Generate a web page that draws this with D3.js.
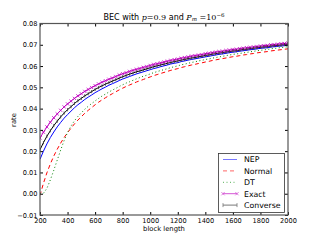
<!DOCTYPE html>
<html>
<head>
<meta charset="utf-8">
<script src="https://cdn.jsdelivr.net/npm/d3@7"></script>
<style>
  body { margin: 0; background: #fff; }
  text { font-family: "DejaVu Sans", sans-serif; }
</style>
</head>
<body>
<div id="container"></div>
<script>
// block lengths (x)
const blockLength = [200, 225, 250, 275, 300, 325, 350, 375, 400, 425, 450, 475, 500, 525, 550, 575, 600, 625, 650, 675,
  700, 725, 750, 775, 800, 825, 850, 875, 900, 925, 950, 975, 1000, 1025, 1050, 1075, 1100, 1125, 1150, 1175,
  1200, 1225, 1250, 1275, 1300, 1325, 1350, 1375, 1400, 1425, 1450, 1475, 1500, 1525, 1550, 1575, 1600, 1625, 1650, 1675,
  1700, 1725, 1750, 1775, 1800, 1825, 1850, 1875, 1900, 1925, 1950, 1975, 2000];

// rate values
const nep = [0.0162, 0.0200, 0.0234, 0.0264, 0.0290, 0.0314, 0.0335, 0.0355, 0.0372, 0.0388, 0.0404, 0.0418, 0.0430, 0.0443, 0.0454, 0.0464, 0.0475, 0.0484, 0.0493, 0.0501,
  0.0510, 0.0517, 0.0524, 0.0532, 0.0539, 0.0545, 0.0551, 0.0557, 0.0563, 0.0568, 0.0573, 0.0578, 0.0583, 0.0588, 0.0592, 0.0597, 0.0601, 0.0605, 0.0610, 0.0613,
  0.0616, 0.0621, 0.0624, 0.0628, 0.0631, 0.0634, 0.0637, 0.0640, 0.0643, 0.0646, 0.0649, 0.0652, 0.0655, 0.0657, 0.0660, 0.0663, 0.0665, 0.0667, 0.0670, 0.0672,
  0.0674, 0.0677, 0.0678, 0.0681, 0.0683, 0.0685, 0.0686, 0.0689, 0.0691, 0.0693, 0.0694, 0.0696, 0.0698];
const normal = [-0.0008, 0.0049, 0.0098, 0.0140, 0.0177, 0.0209, 0.0238, 0.0264, 0.0287, 0.0308, 0.0328, 0.0346, 0.0362, 0.0378, 0.0392, 0.0405, 0.0418, 0.0430, 0.0441, 0.0451,
  0.0461, 0.0470, 0.0479, 0.0488, 0.0496, 0.0504, 0.0511, 0.0518, 0.0525, 0.0531, 0.0537, 0.0543, 0.0549, 0.0555, 0.0560, 0.0565, 0.0570, 0.0575, 0.0580, 0.0584,
  0.0588, 0.0593, 0.0597, 0.0601, 0.0605, 0.0608, 0.0612, 0.0615, 0.0619, 0.0622, 0.0626, 0.0629, 0.0632, 0.0635, 0.0638, 0.0641, 0.0644, 0.0646, 0.0649, 0.0652,
  0.0654, 0.0657, 0.0659, 0.0662, 0.0664, 0.0666, 0.0668, 0.0671, 0.0673, 0.0675, 0.0677, 0.0679, 0.0681];
const dt = [0.0000, 0.0002, 0.0025, 0.0065, 0.0110, 0.0158, 0.0205, 0.0250, 0.0288, 0.0318, 0.0343, 0.0363, 0.0380, 0.0397, 0.0411, 0.0424, 0.0436, 0.0448, 0.0459, 0.0468,
  0.0478, 0.0487, 0.0495, 0.0504, 0.0512, 0.0520, 0.0526, 0.0533, 0.0540, 0.0546, 0.0552, 0.0557, 0.0563, 0.0569, 0.0574, 0.0579, 0.0583, 0.0588, 0.0593, 0.0597,
  0.0601, 0.0606, 0.0609, 0.0613, 0.0617, 0.0620, 0.0624, 0.0627, 0.0631, 0.0633, 0.0637, 0.0640, 0.0643, 0.0646, 0.0649, 0.0652, 0.0655, 0.0657, 0.0659, 0.0662,
  0.0664, 0.0667, 0.0669, 0.0672, 0.0674, 0.0676, 0.0678, 0.0681, 0.0683, 0.0685, 0.0687, 0.0689, 0.0691];
const exact = [0.0262, 0.0289, 0.0314, 0.0336, 0.0357, 0.0375, 0.0392, 0.0408, 0.0422, 0.0435, 0.0448, 0.0460, 0.0470, 0.0481, 0.0490, 0.0499, 0.0508, 0.0516, 0.0524, 0.0531,
  0.0538, 0.0544, 0.0551, 0.0558, 0.0564, 0.0569, 0.0575, 0.0580, 0.0585, 0.0589, 0.0594, 0.0598, 0.0603, 0.0608, 0.0611, 0.0615, 0.0619, 0.0623, 0.0627, 0.0630,
  0.0633, 0.0637, 0.0640, 0.0643, 0.0647, 0.0649, 0.0652, 0.0654, 0.0658, 0.0660, 0.0663, 0.0666, 0.0668, 0.0670, 0.0673, 0.0675, 0.0678, 0.0679, 0.0682, 0.0684,
  0.0686, 0.0688, 0.0690, 0.0692, 0.0694, 0.0696, 0.0697, 0.0700, 0.0701, 0.0703, 0.0705, 0.0706, 0.0708];
const converse = [0.0207, 0.0240, 0.0270, 0.0296, 0.0320, 0.0341, 0.0361, 0.0379, 0.0395, 0.0409, 0.0424, 0.0437, 0.0448, 0.0460, 0.0470, 0.0480, 0.0490, 0.0499, 0.0507, 0.0515,
  0.0522, 0.0529, 0.0536, 0.0543, 0.0550, 0.0556, 0.0562, 0.0567, 0.0573, 0.0577, 0.0582, 0.0587, 0.0592, 0.0597, 0.0601, 0.0605, 0.0609, 0.0613, 0.0617, 0.0621,
  0.0624, 0.0628, 0.0631, 0.0635, 0.0638, 0.0640, 0.0644, 0.0646, 0.0650, 0.0652, 0.0656, 0.0658, 0.0661, 0.0663, 0.0666, 0.0668, 0.0671, 0.0672, 0.0675, 0.0678,
  0.0679, 0.0682, 0.0684, 0.0686, 0.0688, 0.0690, 0.0691, 0.0694, 0.0696, 0.0697, 0.0699, 0.0701, 0.0703];

const xTicks = [200, 400, 600, 800, 1000, 1200, 1400, 1600, 1800, 2000];
const yTicks = [-0.01, 0.00, 0.01, 0.02, 0.03, 0.04, 0.05, 0.06, 0.07, 0.08];
const legendNames = ["NEP", "Normal", "DT", "Exact", "Converse"];

const width = 320;
const height = 240;
const marginTop = 23.5;
const marginRight = 32;
const marginBottom = 25;
const marginLeft = 40;

const x = d3.scaleLinear().domain([200, 2000]).range([marginLeft, width - marginRight]);
const y = d3.scaleLinear().domain([-0.01, 0.08]).range([height - marginBottom, marginTop]);

const svg = d3.create("svg").attr("width", width).attr("height", height);

// clip so nothing leaves the axes
svg.append("clipPath").attr("id", "clip").append("rect")
  .attr("x", marginLeft).attr("y", marginTop)
  .attr("width", x.range()[1] - marginLeft).attr("height", y.range()[0] - marginTop);

const plot = svg.append("g").attr("clip-path", "url(#clip)");

const line = vals => d3.line()
  .x((d, i) => x(blockLength[i]))
  .y(d => y(d))(vals);

const series = [
  {vals: nep, color: "#0000ff", dash: null},
  {vals: normal, color: "#ff0000", dash: "4,3"},
  {vals: dt, color: "#008000", dash: "1,2.5"},
  {vals: exact, color: "#bf00bf", dash: null},
  {vals: converse, color: "#000000", dash: null}
];
// legend samples look paler in the original
const legendColors = ["#7777ff", "#ff6666", "#55b055", "#d455d4", "#777777"];

series.forEach(s => {
  plot.append("path")
    .attr("fill", "none")
    .attr("stroke", s.color)
    .attr("stroke-width", 1)
    .attr("stroke-dasharray", s.dash)
    .attr("d", line(s.vals));
});

// x markers on Exact
plot.append("g").selectAll("path")
  .data(exact)
  .join("path")
  .attr("transform", (d, i) => `translate(${x(blockLength[i])},${y(d)})`)
  .attr("d", "M-1.6,-1.6L1.6,1.6M-1.6,1.6L1.6,-1.6")
  .attr("stroke", "#bf00bf")
  .attr("stroke-width", 0.8);

// small caps on Converse
plot.append("g").selectAll("line")
  .data(converse)
  .join("line")
  .attr("x1", (d, i) => x(blockLength[i])).attr("x2", (d, i) => x(blockLength[i]))
  .attr("y1", d => y(d) - 1.6).attr("y2", d => y(d) + 1.6)
  .attr("stroke", "#333")
  .attr("stroke-width", 0.8);

// axes (ticks inside, all four sides)
const fmtY = d => d < 0 ? "\u22120.01" : d.toFixed(2);
svg.append("g")
  .attr("transform", `translate(0,${y.range()[0]})`)
  .call(d3.axisBottom(x).tickValues(xTicks).tickSizeInner(-3).tickSizeOuter(0).tickPadding(3).tickFormat(d3.format("d")))
  .call(g => g.select(".domain").remove())
  .call(g => g.selectAll("text").style("font-size", "6.6px").attr("fill", "#000"));
svg.append("g")
  .attr("transform", `translate(0,${marginTop})`)
  .call(d3.axisTop(x).tickValues(xTicks).tickSizeInner(-3).tickSizeOuter(0).tickFormat(""))
  .call(g => g.select(".domain").remove());
svg.append("g")
  .attr("transform", `translate(${marginLeft},0)`)
  .call(d3.axisLeft(y).tickValues(yTicks).tickSizeInner(-3).tickSizeOuter(0).tickPadding(2.5).tickFormat(fmtY))
  .call(g => g.select(".domain").remove())
  .call(g => g.selectAll("text").style("font-size", "6.6px").attr("fill", "#000"));
svg.append("g")
  .attr("transform", `translate(${x.range()[1]},0)`)
  .call(d3.axisRight(y).tickValues(yTicks).tickSizeInner(-3).tickSizeOuter(0).tickFormat(""))
  .call(g => g.select(".domain").remove());

// frame
svg.append("rect")
  .attr("x", marginLeft).attr("y", marginTop)
  .attr("width", x.range()[1] - marginLeft).attr("height", y.range()[0] - marginTop)
  .attr("fill", "none").attr("stroke", "#555").attr("stroke-width", 1.2);

// title
const title = svg.append("text")
  .attr("x", 164).attr("y", 19.5)
  .attr("text-anchor", "middle")
  .style("font-size", "8px");
title.append("tspan").text("BEC with ");
title.append("tspan").style("font-family", "DejaVu Serif").style("font-style", "italic").text("p");
title.append("tspan").style("font-family", "DejaVu Serif").text("=0.9");
title.append("tspan").text(" and ");
title.append("tspan").style("font-family", "DejaVu Serif").style("font-style", "italic").text("P");
title.append("tspan").style("font-family", "DejaVu Serif").style("font-style", "italic").style("font-size", "5.5px").attr("dy", 1.5).text("m");
title.append("tspan").style("font-family", "DejaVu Serif").attr("dy", -1.5).text(" =10");
title.append("tspan").style("font-family", "DejaVu Serif").style("font-size", "5.5px").attr("dy", -3).text("\u22126");

// axis labels
svg.append("text")
  .attr("x", 164).attr("y", 231)
  .attr("text-anchor", "middle")
  .style("font-size", "6.8px")
  .text("block length");
svg.append("text")
  .attr("transform", "translate(16,120) rotate(-90)")
  .attr("text-anchor", "middle")
  .style("font-size", "6.8px")
  .text("rate");

// legend
const lg = svg.append("g");
lg.append("rect")
  .attr("x", 218.5).attr("y", 153.5).attr("width", 66).attr("height", 59)
  .attr("fill", "#fff").attr("stroke", "#333").attr("stroke-width", 0.8);
legendNames.forEach((name, i) => {
  const s = series[i];
  const c = legendColors[i];
  const ly = 159.5 + i * 11.4;
  lg.append("line")
    .attr("x1", 223).attr("x2", 237).attr("y1", ly).attr("y2", ly)
    .attr("stroke", c).attr("stroke-width", 1).attr("stroke-dasharray", s.dash);
  if (name === "Exact") {
    [223, 237].forEach(px => lg.append("path")
      .attr("transform", `translate(${px},${ly})`)
      .attr("d", "M-1.6,-1.6L1.6,1.6M-1.6,1.6L1.6,-1.6")
      .attr("stroke", c).attr("stroke-width", 0.8));
  }
  if (name === "Converse") {
    [223, 237].forEach(px => lg.append("line")
      .attr("x1", px).attr("x2", px).attr("y1", ly - 2).attr("y2", ly + 2)
      .attr("stroke", c).attr("stroke-width", 0.8));
  }
  lg.append("text")
    .attr("x", 244).attr("y", ly + 2.8)
    .style("font-size", "7.8px")
    .text(name);
});

container.append(svg.node());
</script>
</body>
</html>
